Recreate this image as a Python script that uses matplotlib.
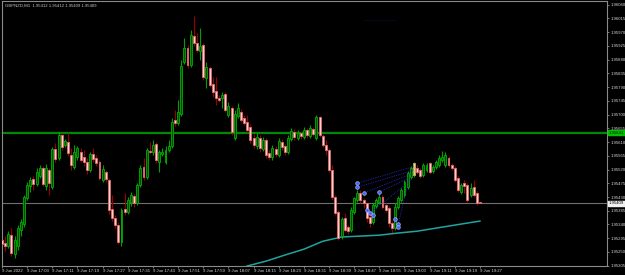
import numpy as np
import matplotlib
matplotlib.use("Agg")
import matplotlib.pyplot as plt
import matplotlib.transforms as mtransforms

# GBPNZD M1, 9 Jun 2022, 16:55 .. 19:27
header = "GBPNZD,M1  1.95412 1.95412 1.95409 1.95409"

opens = [
    1.95289, 1.95279, 1.95269, 1.95305, 1.95243, 1.95269, 1.95322, 1.95341, 1.95426, 1.95466,
    1.95489, 1.95472, 1.95498, 1.95525, 1.95466, 1.95518, 1.95462, 1.95587, 1.95557, 1.95633,
    1.95600, 1.95610, 1.95567, 1.95528, 1.95561, 1.95577, 1.95561, 1.95544, 1.95518, 1.95570,
    1.95557, 1.95544, 1.95485, 1.95512, 1.95485, 1.95390, 1.95361, 1.95338, 1.95282, 1.95390,
    1.95380, 1.95413, 1.95433, 1.95410, 1.95469, 1.95528, 1.95495, 1.95580, 1.95577, 1.95603,
    1.95544, 1.95570, 1.95544, 1.95584, 1.95597, 1.95682, 1.95672, 1.95702, 1.95872, 1.95918,
    1.95862, 1.95957, 1.95934, 1.95908, 1.95928, 1.95819, 1.95852, 1.95800, 1.95777, 1.95754,
    1.95754, 1.95767, 1.95698, 1.95721, 1.95623, 1.95695, 1.95708, 1.95688, 1.95675, 1.95659,
    1.95623, 1.95597, 1.95623, 1.95587, 1.95616, 1.95574, 1.95561, 1.95587, 1.95567, 1.95610,
    1.95597, 1.95577, 1.95620, 1.95643, 1.95623, 1.95639, 1.95626, 1.95649, 1.95629, 1.95652,
    1.95623, 1.95692, 1.95629, 1.95600, 1.95584, 1.95518, 1.95430, 1.95380, 1.95302, 1.95361,
    1.95331, 1.95322, 1.95380, 1.95420, 1.95443, 1.95420, 1.95410, 1.95364, 1.95348, 1.95400,
    1.95413, 1.95430, 1.95403, 1.95394, 1.95344, 1.95328, 1.95397, 1.95420, 1.95436, 1.95462,
    1.95495, 1.95502, 1.95525, 1.95518, 1.95502, 1.95518, 1.95541, 1.95515, 1.95528, 1.95534,
    1.95551, 1.95534, 1.95557, 1.95534, 1.95525, 1.95492, 1.95446, 1.95475, 1.95469, 1.95436,
    1.95462, 1.95443, 1.95412,
]
closes = [
    1.95276, 1.95269, 1.95308, 1.95246, 1.95289, 1.95328, 1.95348, 1.95430, 1.95469, 1.95485,
    1.95472, 1.95512, 1.95525, 1.95472, 1.95525, 1.95475, 1.95587, 1.95554, 1.95633, 1.95593,
    1.95613, 1.95574, 1.95534, 1.95577, 1.95590, 1.95551, 1.95544, 1.95518, 1.95570, 1.95554,
    1.95541, 1.95492, 1.95521, 1.95489, 1.95387, 1.95361, 1.95338, 1.95282, 1.95387, 1.95380,
    1.95420, 1.95436, 1.95410, 1.95469, 1.95525, 1.95495, 1.95584, 1.95577, 1.95600, 1.95551,
    1.95577, 1.95577, 1.95584, 1.95597, 1.95675, 1.95672, 1.95708, 1.95859, 1.95918, 1.95862,
    1.95960, 1.95934, 1.95911, 1.95924, 1.95823, 1.95856, 1.95797, 1.95774, 1.95754, 1.95747,
    1.95764, 1.95715, 1.95728, 1.95643, 1.95702, 1.95721, 1.95682, 1.95672, 1.95649, 1.95616,
    1.95600, 1.95626, 1.95590, 1.95616, 1.95567, 1.95561, 1.95590, 1.95570, 1.95613, 1.95593,
    1.95577, 1.95623, 1.95646, 1.95626, 1.95639, 1.95629, 1.95649, 1.95633, 1.95656, 1.95636,
    1.95692, 1.95633, 1.95600, 1.95584, 1.95518, 1.95430, 1.95377, 1.95295, 1.95358, 1.95322,
    1.95318, 1.95387, 1.95426, 1.95443, 1.95420, 1.95410, 1.95361, 1.95344, 1.95403, 1.95420,
    1.95430, 1.95397, 1.95387, 1.95344, 1.95328, 1.95397, 1.95426, 1.95453, 1.95479, 1.95508,
    1.95525, 1.95541, 1.95512, 1.95498, 1.95534, 1.95534, 1.95512, 1.95528, 1.95544, 1.95557,
    1.95561, 1.95567, 1.95534, 1.95525, 1.95485, 1.95453, 1.95469, 1.95466, 1.95420, 1.95459,
    1.95436, 1.95410, 1.95409,
]
highs = [
    1.95302, 1.95302, 1.95318, 1.95328, 1.95302, 1.95338, 1.95358, 1.95436, 1.95479, 1.95495,
    1.95498, 1.95525, 1.95534, 1.95531, 1.95538, 1.95525, 1.95593, 1.95607, 1.95643, 1.95639,
    1.95620, 1.95639, 1.95590, 1.95600, 1.95597, 1.95590, 1.95584, 1.95557, 1.95577, 1.95590,
    1.95567, 1.95551, 1.95534, 1.95518, 1.95492, 1.95436, 1.95371, 1.95348, 1.95394, 1.95443,
    1.95430, 1.95446, 1.95439, 1.95475, 1.95534, 1.95557, 1.95590, 1.95610, 1.95616, 1.95610,
    1.95584, 1.95590, 1.95597, 1.95616, 1.95688, 1.95715, 1.95747, 1.95878, 1.95951, 1.95928,
    1.95977, 1.96023, 1.95967, 1.95983, 1.95934, 1.95872, 1.95859, 1.95823, 1.95823, 1.95764,
    1.95774, 1.95774, 1.95741, 1.95728, 1.95715, 1.95738, 1.95718, 1.95698, 1.95698, 1.95669,
    1.95636, 1.95639, 1.95633, 1.95626, 1.95623, 1.95584, 1.95600, 1.95597, 1.95623, 1.95620,
    1.95603, 1.95633, 1.95656, 1.95652, 1.95649, 1.95646, 1.95659, 1.95656, 1.95665, 1.95659,
    1.95698, 1.95695, 1.95636, 1.95616, 1.95590, 1.95534, 1.95436, 1.95387, 1.95364, 1.95377,
    1.95338, 1.95397, 1.95430, 1.95453, 1.95453, 1.95426, 1.95413, 1.95374, 1.95410, 1.95426,
    1.95443, 1.95436, 1.95410, 1.95400, 1.95351, 1.95410, 1.95433, 1.95459, 1.95485, 1.95515,
    1.95531, 1.95544, 1.95534, 1.95525, 1.95541, 1.95541, 1.95544, 1.95534, 1.95551, 1.95567,
    1.95580, 1.95577, 1.95564, 1.95541, 1.95531, 1.95498, 1.95475, 1.95485, 1.95475, 1.95475,
    1.95485, 1.95449, 1.95412,
]
lows = [
    1.95263, 1.95253, 1.95263, 1.95236, 1.95230, 1.95256, 1.95302, 1.95331, 1.95420, 1.95446,
    1.95453, 1.95466, 1.95492, 1.95466, 1.95453, 1.95436, 1.95456, 1.95544, 1.95551, 1.95584,
    1.95593, 1.95564, 1.95518, 1.95521, 1.95551, 1.95544, 1.95531, 1.95505, 1.95512, 1.95544,
    1.95531, 1.95485, 1.95479, 1.95479, 1.95374, 1.95351, 1.95328, 1.95276, 1.95269, 1.95371,
    1.95374, 1.95400, 1.95397, 1.95403, 1.95462, 1.95485, 1.95489, 1.95570, 1.95567, 1.95541,
    1.95512, 1.95564, 1.95538, 1.95577, 1.95590, 1.95662, 1.95665, 1.95695, 1.95865, 1.95852,
    1.95856, 1.95924, 1.95905, 1.95878, 1.95813, 1.95787, 1.95790, 1.95757, 1.95731, 1.95741,
    1.95721, 1.95708, 1.95692, 1.95633, 1.95616, 1.95688, 1.95675, 1.95665, 1.95643, 1.95607,
    1.95590, 1.95587, 1.95577, 1.95580, 1.95557, 1.95551, 1.95551, 1.95561, 1.95561, 1.95584,
    1.95567, 1.95570, 1.95613, 1.95616, 1.95616, 1.95620, 1.95620, 1.95623, 1.95623, 1.95629,
    1.95616, 1.95626, 1.95593, 1.95567, 1.95512, 1.95423, 1.95371, 1.95289, 1.95292, 1.95315,
    1.95308, 1.95315, 1.95374, 1.95413, 1.95410, 1.95394, 1.95348, 1.95331, 1.95341, 1.95394,
    1.95407, 1.95390, 1.95380, 1.95331, 1.95312, 1.95322, 1.95390, 1.95413, 1.95430, 1.95456,
    1.95489, 1.95495, 1.95505, 1.95492, 1.95495, 1.95512, 1.95505, 1.95508, 1.95521, 1.95528,
    1.95544, 1.95528, 1.95528, 1.95518, 1.95479, 1.95446, 1.95439, 1.95443, 1.95413, 1.95430,
    1.95430, 1.95403, 1.95409,
]
selected_bar = 131

# moving average (only the visible part)
ma_bars = [74, 78, 84, 90, 96, 102, 108, 114, 120, 126, 132, 138, 144, 150, 152]
ma_vals = [1.95185, 1.95204, 1.95220, 1.95240, 1.95259, 1.95285, 1.95299, 1.95302,
           1.95305, 1.95312, 1.95318, 1.95328, 1.95338, 1.95348, 1.95351]

# level lines
level_price = 1.95641
bid_price = 1.95409

# pattern tool points (dotted fan + circle marks)
mark_bars = [113, 113, 115, 120, 116, 117, 118, 125, 126, 126]
mark_vals = [1.95475, 1.95462, 1.95443, 1.95446, 1.95387, 1.95377, 1.95371, 1.95358, 1.95341, 1.95331]
fan_from = [(113, 1.95475), (113, 1.95462), (115, 1.95443), (120, 1.95446), (117, 1.95377), (126, 1.95341)]
fan_to = [(131, 1.95530), (131, 1.95518), (130, 1.95505), (130, 1.95495), (130, 1.95485), (129, 1.95470)]

time_labels = ["9 Jun 2022", "9 Jun 17:03", "9 Jun 17:11", "9 Jun 17:19", "9 Jun 17:27",
               "9 Jun 17:35", "9 Jun 17:43", "9 Jun 17:51", "9 Jun 17:59", "9 Jun 18:07",
               "9 Jun 18:15", "9 Jun 18:23", "9 Jun 18:31", "9 Jun 18:39", "9 Jun 18:47",
               "9 Jun 18:55", "9 Jun 19:03", "9 Jun 19:11", "9 Jun 19:19", "9 Jun 19:27"]
price_ticks = [1.95205, 1.95250, 1.95295, 1.95340, 1.95385, 1.95430, 1.95475, 1.95520,
               1.95565, 1.95610, 1.95655, 1.95700, 1.95745, 1.95790, 1.95835, 1.95880,
               1.95925, 1.95970, 1.96015, 1.96060]

FONT = "Liberation Sans"
FS = 3.1

fig = plt.figure(figsize=(6.25, 2.75), dpi=100, facecolor="black")
ax = fig.add_axes([2 / 625, 9 / 275, 605 / 625, 265 / 275], facecolor="black")

o = np.array(opens); c = np.array(closes); h = np.array(highs); l = np.array(lows)
x = np.arange(len(o))
up = c >= o

# wicks
ax.vlines(x[up], l[up], h[up], color="#00a000", lw=0.8, zorder=2)
ax.vlines(x[~up], l[~up], h[~up], color="#9a0000", lw=0.8, zorder=2)

# bodies
body_lo = np.minimum(o, c)
body_h = np.maximum(np.abs(c - o), 0.000012)
ax.bar(x[up], body_h[up], bottom=body_lo[up], width=0.62, color="#004a00",
       edgecolor="#00b000", linewidth=0.6, zorder=3)
ax.bar(x[~up], body_h[~up], bottom=body_lo[~up], width=0.62, color="#ffd0d0",
       edgecolor="#e06868", linewidth=0.6, zorder=3)
ax.bar([selected_bar], [body_h[selected_bar]], bottom=[body_lo[selected_bar]], width=0.7,
       color="#e8c890", edgecolor="#c8a060", linewidth=0.6, zorder=4)

# moving average
ax.plot(ma_bars, ma_vals, color="#1fa5a0", lw=1.1, zorder=2)

# horizontal lines
ax.axhline(level_price, color="#008a00", lw=1.6, zorder=1)
ax.axhline(bid_price, color="#707070", lw=0.8, zorder=1)

# pattern drawing
for (x0, y0), (x1, y1) in zip(fan_from, fan_to):
    ax.plot([x0, x1], [y0, y1], color="#2a2ad0", lw=0.6, ls=(0, (1, 1.2)), zorder=5)
ax.plot(mark_bars, mark_vals, "o", ms=2.6, mfc="#4060ff", mec="#a8b8ff", mew=0.5, zorder=6)
ax.plot([115, 122, 125], [1.96009, 1.96009, 1.96009], color="#141460", lw=0.6,
        ls=(0, (1, 2)), zorder=5)

ax.set_xlim(0, 192.4)
ax.set_ylim(1.95204, 1.96072)

# axes styling
for s in ax.spines.values():
    s.set_color("#8a8a8a")
    s.set_linewidth(0.8)

ax.yaxis.tick_right()
ax.set_yticks(price_ticks)
ax.set_yticklabels([f"{p:.5f}" for p in price_ticks])
ax.set_xticks(np.arange(0, 153, 8))
ax.set_xticklabels(time_labels)
ax.tick_params(axis="both", colors="#8a8a8a", labelcolor="#d8d8d8", labelsize=FS,
               length=1.5, width=0.6, pad=0.8)
for lbl in ax.get_xticklabels() + ax.get_yticklabels():
    lbl.set_family(FONT)
for lbl in ax.get_xticklabels():
    lbl.set_ha("left")

# price boxes on the right scale
trans = mtransforms.blended_transform_factory(ax.transAxes, ax.transData)
ax.text(1.003, level_price, f"{level_price:.5f}", transform=trans, fontsize=FS,
        family=FONT, color="#101010", va="center", ha="left",
        bbox=dict(boxstyle="square,pad=0.15", fc="#00c000", ec="#00c000"), zorder=10,
        clip_on=False)
ax.text(1.003, bid_price, f"{bid_price:.5f}", transform=trans, fontsize=FS,
        family=FONT, color="#000000", va="center", ha="left",
        bbox=dict(boxstyle="square,pad=0.15", fc="#f0f0f0", ec="#f0f0f0"), zorder=10,
        clip_on=False)

fig.text(5 / 625, 1 - 4 / 275, header, color="#c8c8c8", fontsize=FS, family=FONT,
         va="top", ha="left")

fig.savefig("out.png", dpi=100, facecolor="black")
